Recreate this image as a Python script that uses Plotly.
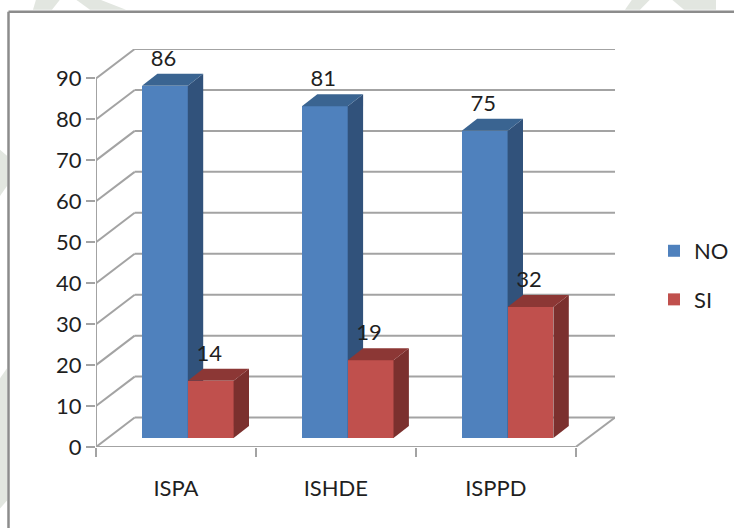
import plotly.graph_objects as go

categories = ["ISPA", "ISHDE", "ISPPD"]
no_values = [86, 81, 75]
si_values = [14, 19, 32]
y_ticks = [0, 10, 20, 30, 40, 50, 60, 70, 80, 90]

W, H = 734, 528
L, R, T, B = 96.0, 615.0, 49.3, 446.7      # plot box, px
PX_X = 159.9                               # px per category
PX_Y = 368.0 / 90                          # px per unit
X_MAX = (R - L) / PX_X
Y_MAX = (B - T) / PX_Y
WALL_DX = 38.7 / PX_X                      # depth of the 3D box
WALL_DY = 29.4 / PX_Y
BAR_DY = 9.0 / PX_Y                        # bar front sits this far into the box
BAR_W = 45.8 / PX_X
SIDE_DX = 15.4 / PX_X
SIDE_DY = 12.0 / PX_Y
LABEL_UP = 25.5 / PX_Y
GRID = "#a3a3a3"
TEXT = "#1f1f1f"
FONT = "Lato"
FS = 22


def px(x):
    return (x - L) / (R - L)


def py(y):
    return (B - y) / (B - T)


shapes = []


def line(x0, y0, x1, y1):
    shapes.append(dict(type="line", xref="x", yref="y", x0=x0, y0=y0, x1=x1, y1=y1,
                       layer="below", line=dict(color=GRID, width=2)))


for v in y_ticks:
    line(0, v, WALL_DX, v + WALL_DY)
    line(WALL_DX, v + WALL_DY, X_MAX, v + WALL_DY)
line(0, 0, 0, y_ticks[-1])
line(0, 0, len(categories), 0)
line(len(categories), 0, X_MAX, WALL_DY)

# outer frame
for a in [(8.5, 12, 8.5, H), (8.5, 12, W, 12)]:
    shapes.append(dict(type="line", xref="paper", yref="paper", x0=px(a[0]), y0=py(a[1]),
                       x1=px(a[2]), y1=py(a[3]), layer="below",
                       line=dict(color="#8c8c8c", width=2.5)))

# faint watermark behind the chart
patches = [
    [(36, 0), (60, 0), (52, 10), (33, 10)],
    [(76, 0), (100, 0), (126, 10), (90, 10)],
    [(632, 0), (650, 0), (640, 10), (625, 10)],
    [(672, 0), (716, 0), (716, 10), (684, 10)],
    [(0, 378), (7, 368), (7, 500), (0, 508)],
    [(0, 150), (7, 156), (7, 186), (0, 196)],
]
for p in patches:
    d = "M" + "L".join(f"{px(a)},{py(b)}" for a, b in p) + "Z"
    shapes.append(dict(type="path", xref="paper", yref="paper", path=d, layer="below",
                       line=dict(width=0), fillcolor="#e2e6e0"))

fig = go.Figure()


def add_series(name, values, offset, front, side, top, xa, ya):
    starts = [i + 46.0 / PX_X + offset * BAR_W for i in range(len(values))]
    fig.add_trace(go.Bar(
        name=name, legendgroup=name, x=[s + BAR_W / 2 for s in starts], y=values,
        base=[BAR_DY] * len(values), width=BAR_W, marker=dict(color=front, line=dict(width=0)),
        xaxis=xa, yaxis=ya, hoverinfo="skip"))
    for s, v in zip(starts, values):
        t = BAR_DY + v
        e = s + BAR_W
        fig.add_trace(go.Scatter(
            x=[e, e + SIDE_DX, e + SIDE_DX, e, e],
            y=[BAR_DY, BAR_DY + SIDE_DY, t + SIDE_DY, t, BAR_DY],
            mode="lines", fill="toself", fillcolor=side, line=dict(width=0),
            showlegend=False, xaxis=xa, yaxis=ya, hoverinfo="skip"))
        fig.add_trace(go.Scatter(
            x=[s, e, e + SIDE_DX, s + SIDE_DX, s],
            y=[t, t, t + SIDE_DY, t + SIDE_DY, t],
            mode="lines", fill="toself", fillcolor=top, line=dict(width=0),
            showlegend=False, xaxis=xa, yaxis=ya, hoverinfo="skip"))
    fig.add_trace(go.Scatter(
        x=[s + BAR_W / 2 - 1.5 / PX_X for s in starts], y=[BAR_DY + v + LABEL_UP for v in values],
        text=[str(v) for v in values], mode="text", textposition="middle center",
        textfont=dict(family=FONT, size=FS, color=TEXT),
        showlegend=False, xaxis=xa, yaxis=ya, hoverinfo="skip"))


add_series("NO", no_values, 0, "#4f81bd", "#31527b", "#3a6491", "x", "y")
add_series("SI", si_values, 1, "#c0504d", "#7b302e", "#8c3735", "x2", "y2")

fig.update_layout(
    width=W, height=H, autosize=False,
    margin=dict(l=L, r=W - R, t=T, b=H - B, pad=0, autoexpand=False),
    paper_bgcolor="white", plot_bgcolor="rgba(0,0,0,0)",
    font=dict(family=FONT, size=FS, color=TEXT),
    barmode="overlay", bargap=0,
    shapes=shapes,
    legend=dict(x=px(654), y=py(230), xanchor="left", yanchor="top",
                bgcolor="rgba(0,0,0,0)", tracegroupgap=17, traceorder="grouped",
                font=dict(family=FONT, size=FS, color=TEXT), itemwidth=30),
    xaxis=dict(range=[0, X_MAX], showgrid=False, zeroline=False, showline=False,
               automargin=False,
               tickmode="array", tickvals=[i + 0.5 for i in range(len(categories))],
               ticktext=categories, ticks="", ticklabelstandoff=26,
               tickfont=dict(family=FONT, size=FS, color=TEXT),
               minor=dict(tickmode="array", tickvals=list(range(len(categories) + 1)),
                          ticks="outside", ticklen=9, tickwidth=2, tickcolor=GRID, showgrid=False)),
    yaxis=dict(range=[0, Y_MAX], showgrid=False, zeroline=False, showline=False,
               automargin=False,
               tickmode="array", tickvals=y_ticks, ticks="outside", ticklen=9,
               tickwidth=2, tickcolor=GRID,
               tickfont=dict(family=FONT, size=FS, color=TEXT)),
    xaxis2=dict(range=[0, X_MAX], overlaying="x", visible=False),
    yaxis2=dict(range=[0, Y_MAX], overlaying="y", visible=False),
)

fig.write_html("out.html", config={"displayModeBar": False},
               post_script="document.body.style.margin='0';document.body.style.overflow='hidden';")
